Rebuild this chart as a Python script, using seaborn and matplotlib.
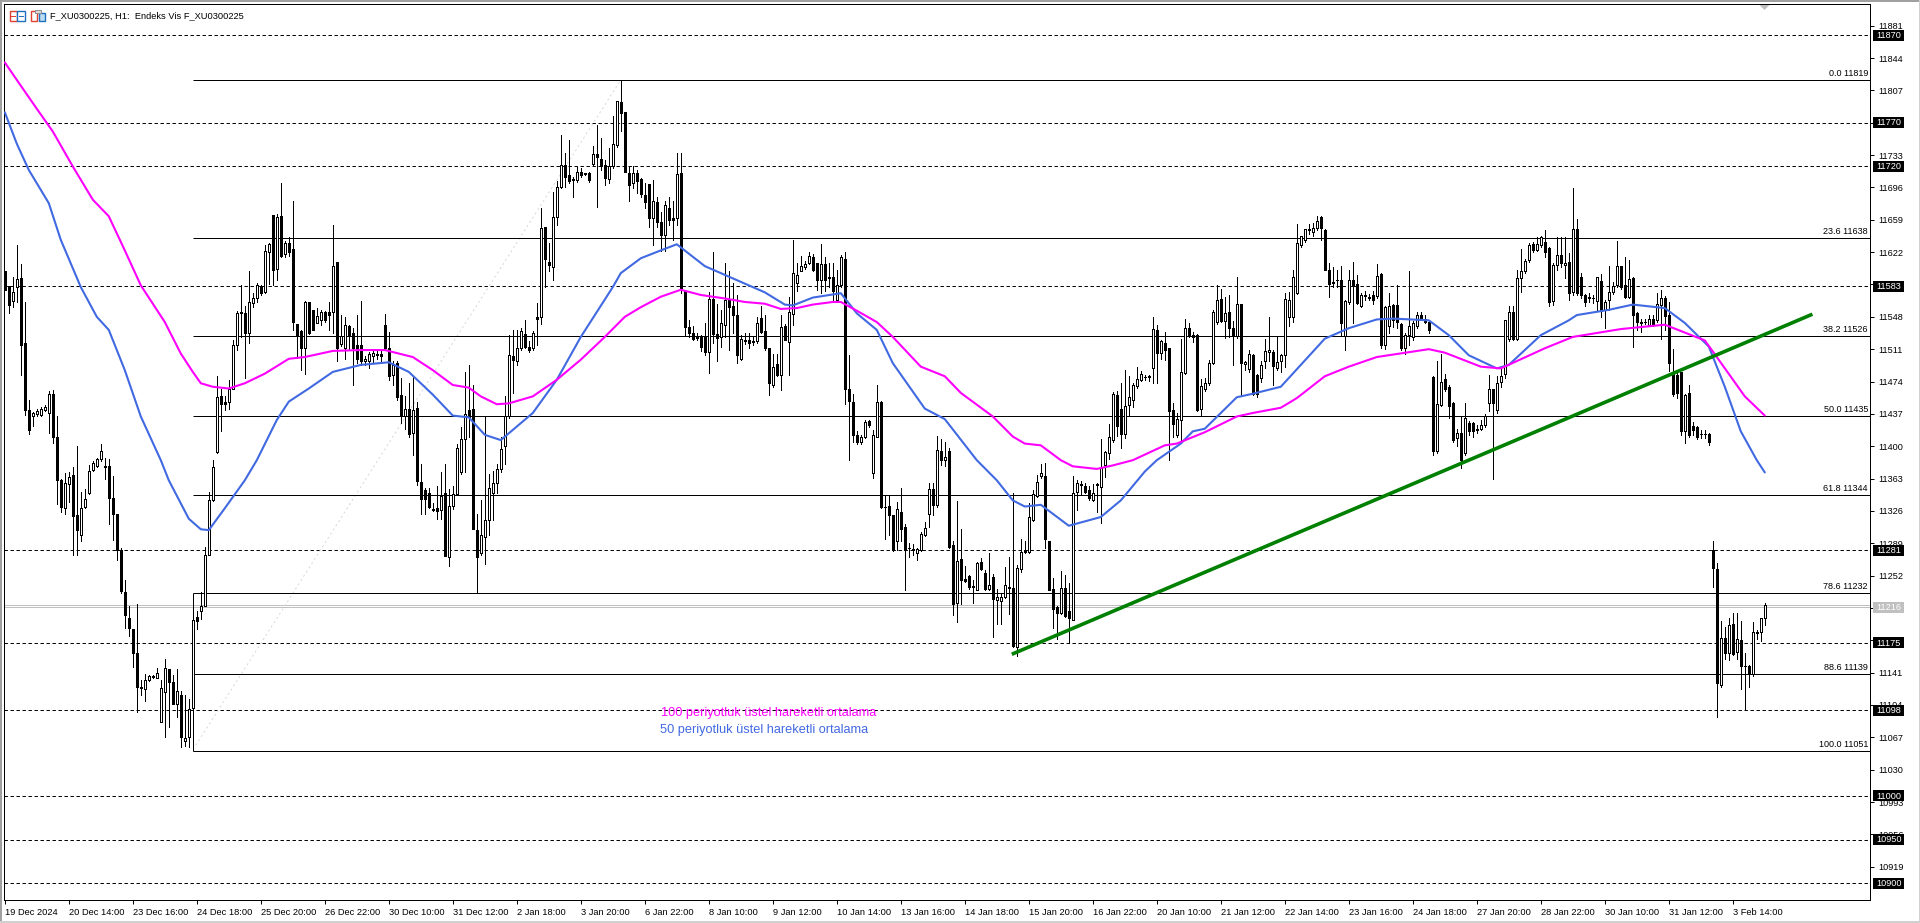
import matplotlib
matplotlib.use("Agg")
import matplotlib.pyplot as plt
from matplotlib.patches import Rectangle, Polygon
import numpy as np
import pandas as pd
import seaborn as sns

open_ = [
11600,11583,11566,11582,11592,11518,11441,11435,11437,11436,
11441,11438,11460,11411,11361,11329,11357,11367,11321,11298,
11331,11346,11373,11377,11385,11377,11377,11341,11322,11281,
11233,11203,11191,11163,11125,11122,11132,11136,11135,11085,
11119,11145,11130,11105,11115,11063,11067,11100,11205,11212,
11217,11275,11338,11393,11457,11450,11450,11466,11516,11553,
11552,11530,11564,11569,11583,11576,11622,11665,11603,11663,
11620,11633,11626,11540,11532,11512,11565,11556,11541,11544,
11553,11553,11553,11611,11517,11512,11537,11529,11516,11516,
11497,11498,11503,11506,11506,11539,11512,11481,11495,11459,
11434,11442,11415,11444,11359,11350,11346,11328,11329,11327,
11347,11273,11332,11345,11370,11408,11441,11443,11304,11278,
11296,11316,11346,11358,11374,11400,11434,11503,11498,11512,
11528,11514,11512,11548,11548,11651,11611,11605,11662,11696,
11722,11710,11706,11704,11714,11712,11713,11723,11734,11729,
11722,11706,11720,11745,11794,11782,11712,11701,11712,11706,
11687,11700,11661,11679,11656,11642,11672,11661,11661,11712,
11577,11536,11530,11526,11526,11526,11508,11568,11528,11525,
11539,11567,11560,11550,11500,11521,11522,11520,11520,11547,
11532,11512,11470,11494,11481,11537,11519,11551,11587,11600,
11605,11609,11616,11609,11590,11608,11594,11594,11567,11584,
11614,11465,11451,11413,11405,11411,11429,11369,11411,11451,
11331,11332,11321,11291,11325,11308,11284,11282,11278,11281,
11298,11322,11351,11333,11394,11384,11394,11287,11221,11271,
11248,11252,11240,11236,11267,11255,11237,11250,11224,11223,
11228,11239,11238,11170,11259,11281,11279,11316,11343,11366,
11366,11292,11237,11216,11209,11238,11211,11201,11348,11356,
11354,11350,11339,11357,11353,11378,11392,11407,11459,11443,
11414,11447,11453,11469,11476,11479,11480,11489,11533,11507,
11518,11512,11441,11413,11430,11484,11535,11527,11527,11442,
11466,11472,11495,11542,11568,11543,11554,11535,11526,11563,
11494,11488,11504,11481,11478,11497,11508,11508,11490,11497,
11504,11548,11548,11575,11630,11636,11647,11645,11650,11662,
11647,11601,11588,11590,11590,11526,11565,11590,11585,11560,
11572,11571,11573,11572,11597,11516,11538,11561,11561,11540,
11512,11527,11525,11538,11550,11546,11542,11479,11394,11447,
11477,11468,11449,11409,11415,11392,11427,11426,11420,11420,
11424,11449,11465,11441,11474,11483,11523,11554,11523,11592,
11600,11613,11631,11625,11630,11634,11627,11566,11607,11619,
11607,11611,11576,11648,11593,11573,11571,11569,11566,11589,
11556,11567,11576,11584,11606,11584,11571,11592,11552,11542,
11542,11539,11545,11544,11561,11570,11550,11483,11481,11485,
11417,11461,11423,11422,11414,11414,11414,11281,11260,11127,
11181,11164,11197,11165,11178,11149,11149,11139,11188,11187,
11203]
close = [
11579,11561,11576,11591,11516,11441,11418,11438,11440,11443,
11445,11460,11411,11361,11330,11358,11365,11320,11304,11329,
11340,11372,11381,11385,11395,11376,11341,11322,11281,11234,
11207,11192,11163,11124,11123,11132,11137,11137,11141,11123,
11146,11130,11105,11120,11067,11066,11099,11201,11200,11217,
11275,11339,11376,11456,11448,11448,11465,11516,11552,11552,
11529,11565,11569,11584,11575,11623,11631,11601,11662,11618,
11633,11622,11542,11527,11512,11565,11529,11533,11549,11554,
11544,11550,11606,11512,11526,11539,11527,11512,11500,11498,
11500,11505,11507,11504,11503,11512,11480,11493,11456,11434,
11442,11414,11441,11360,11340,11340,11331,11327,11326,11343,
11274,11332,11345,11398,11408,11437,11433,11305,11273,11298,
11316,11352,11358,11374,11397,11435,11504,11499,11512,11532,
11514,11510,11529,11546,11650,11614,11607,11662,11697,11722,
11708,11703,11705,11714,11710,11711,11704,11734,11731,11720,
11707,11721,11746,11795,11781,11714,11699,11713,11703,11688,
11679,11661,11680,11656,11642,11676,11659,11659,11711,11581,
11536,11530,11523,11524,11514,11508,11568,11528,11524,11541,
11567,11559,11550,11504,11523,11520,11518,11519,11541,11531,
11512,11472,11491,11482,11536,11522,11554,11598,11596,11606,
11608,11618,11601,11590,11608,11590,11592,11578,11584,11617,
11465,11452,11413,11405,11411,11428,11424,11413,11451,11330,
11330,11321,11281,11328,11305,11281,11283,11281,11282,11299,
11306,11351,11333,11396,11384,11388,11285,11220,11269,11247,
11246,11239,11239,11266,11260,11237,11241,11225,11228,11227,
11241,11238,11171,11261,11279,11279,11319,11345,11359,11369,
11294,11236,11214,11209,11238,11206,11203,11347,11358,11357,
11348,11341,11346,11356,11375,11393,11410,11460,11423,11414,
11446,11456,11470,11477,11483,11479,11479,11534,11507,11520,
11510,11440,11425,11431,11485,11535,11527,11525,11441,11469,
11472,11495,11554,11567,11543,11552,11535,11526,11563,11495,
11496,11505,11460,11460,11493,11509,11510,11492,11496,11504,
11568,11567,11593,11633,11640,11648,11648,11650,11658,11650,
11601,11586,11587,11590,11541,11566,11590,11583,11564,11573,
11573,11570,11567,11595,11516,11559,11560,11544,11542,11512,
11527,11537,11541,11550,11546,11542,11533,11394,11448,11474,
11466,11446,11407,11415,11384,11432,11417,11417,11419,11424,
11435,11465,11449,11472,11480,11544,11554,11523,11592,11600,
11612,11630,11625,11631,11639,11622,11565,11607,11619,11609,
11610,11575,11648,11575,11573,11565,11570,11569,11593,11555,
11565,11576,11583,11606,11582,11571,11591,11550,11542,11541,
11542,11546,11540,11563,11569,11549,11495,11460,11461,11417,
11459,11413,11419,11410,11414,11414,11405,11261,11129,11181,
11164,11195,11162,11180,11149,11149,11139,11188,11186,11203,
11218]
high = [
11600,11583,11594,11630,11608,11565,11453,11439,11443,11445,
11447,11463,11464,11434,11363,11369,11370,11376,11400,11348,
11351,11379,11383,11386,11402,11386,11385,11366,11322,11283,
11247,11217,11191,11220,11132,11139,11138,11138,11146,11132,
11157,11145,11138,11145,11120,11115,11111,11201,11212,11233,
11285,11348,11384,11480,11466,11457,11476,11522,11555,11584,
11560,11600,11575,11587,11584,11630,11632,11665,11666,11701,
11635,11639,11680,11540,11533,11566,11565,11556,11558,11556,
11555,11565,11653,11611,11550,11548,11539,11535,11550,11566,
11503,11508,11510,11510,11510,11551,11531,11498,11497,11478,
11457,11472,11480,11450,11380,11352,11352,11335,11355,11370,
11380,11351,11355,11402,11422,11485,11493,11470,11323,11338,
11433,11368,11372,11380,11410,11457,11527,11533,11533,11535,
11544,11520,11532,11564,11672,11651,11632,11691,11703,11756,
11735,11750,11708,11719,11718,11713,11714,11743,11767,11752,
11727,11741,11778,11795,11819,11782,11720,11720,11716,11707,
11701,11700,11705,11685,11668,11680,11685,11680,11735,11735,
11577,11544,11537,11530,11527,11541,11576,11622,11563,11556,
11609,11600,11587,11573,11527,11529,11530,11526,11548,11560,
11550,11512,11505,11505,11550,11540,11571,11636,11609,11618,
11612,11622,11620,11609,11631,11617,11609,11609,11602,11619,
11622,11504,11460,11417,11413,11430,11430,11419,11470,11452,
11344,11344,11321,11336,11352,11311,11289,11288,11283,11302,
11313,11358,11358,11412,11408,11405,11398,11292,11337,11305,
11263,11253,11247,11268,11272,11258,11278,11254,11237,11232,
11262,11273,11347,11264,11294,11292,11335,11350,11367,11380,
11381,11292,11249,11217,11257,11253,11243,11366,11361,11360,
11358,11354,11357,11358,11408,11395,11425,11462,11463,11472,
11487,11480,11472,11491,11486,11482,11481,11548,11539,11522,
11531,11512,11449,11438,11523,11545,11541,11531,11528,11477,
11478,11499,11556,11584,11580,11571,11573,11543,11594,11563,
11498,11510,11505,11483,11497,11523,11548,11510,11525,11506,
11575,11576,11601,11654,11641,11649,11654,11655,11663,11663,
11648,11609,11605,11602,11606,11567,11601,11611,11596,11575,
11577,11574,11577,11608,11598,11560,11575,11563,11584,11541,
11529,11600,11543,11553,11553,11550,11544,11480,11497,11506,
11483,11470,11451,11420,11434,11449,11429,11428,11424,11430,
11437,11482,11466,11480,11489,11544,11560,11560,11601,11626,
11614,11633,11634,11639,11640,11647,11628,11610,11639,11639,
11639,11621,11695,11660,11598,11574,11575,11573,11593,11597,
11567,11606,11588,11635,11606,11616,11613,11593,11554,11545,
11545,11550,11550,11575,11579,11572,11565,11511,11485,11485,
11460,11470,11428,11423,11418,11419,11415,11291,11266,11200,
11193,11203,11209,11209,11200,11164,11150,11199,11190,11203,
11221]
low = [
11579,11552,11559,11565,11481,11436,11414,11423,11434,11435,
11440,11415,11404,11334,11325,11323,11336,11275,11275,11292,
11329,11345,11372,11376,11383,11362,11311,11293,11270,11232,
11192,11183,11148,11096,11115,11108,11131,11135,11135,11085,
11067,11079,11105,11090,11056,11057,11056,11095,11191,11202,
11217,11275,11337,11392,11417,11441,11443,11466,11510,11525,
11478,11518,11559,11565,11573,11575,11586,11584,11590,11617,
11617,11618,11533,11501,11487,11483,11528,11533,11541,11539,
11542,11533,11530,11497,11515,11500,11510,11470,11495,11493,
11493,11490,11495,11500,11497,11510,11476,11470,11453,11426,
11420,11410,11390,11356,11322,11323,11329,11326,11317,11317,
11274,11263,11328,11344,11368,11370,11410,11305,11233,11275,
11265,11298,11316,11346,11370,11380,11432,11461,11493,11510,
11512,11508,11510,11516,11540,11582,11600,11590,11653,11695,
11697,11701,11685,11702,11708,11710,11702,11721,11674,11716,
11699,11701,11718,11742,11761,11714,11680,11695,11690,11685,
11672,11651,11630,11651,11623,11623,11653,11636,11653,11575,
11527,11525,11521,11521,11509,11504,11484,11518,11498,11513,
11525,11510,11530,11495,11499,11517,11512,11516,11518,11529,
11510,11459,11468,11480,11464,11521,11481,11539,11577,11600,
11603,11608,11600,11579,11575,11578,11582,11565,11565,11582,
11448,11384,11405,11403,11403,11409,11422,11364,11410,11329,
11294,11298,11280,11281,11292,11235,11273,11276,11270,11280,
11297,11308,11321,11330,11378,11377,11284,11207,11199,11220,
11245,11237,11221,11235,11258,11235,11235,11182,11197,11197,
11226,11208,11170,11160,11256,11278,11278,11315,11342,11364,
11283,11236,11192,11180,11208,11205,11175,11201,11327,11345,
11346,11339,11337,11325,11312,11365,11385,11405,11412,11398,
11409,11434,11445,11467,11475,11476,11475,11472,11472,11500,
11499,11384,11410,11411,11407,11483,11525,11519,11440,11434,
11463,11470,11494,11540,11542,11524,11525,11493,11524,11459,
11487,11485,11459,11456,11473,11490,11497,11470,11487,11485,
11491,11537,11542,11574,11628,11634,11643,11640,11647,11636,
11601,11571,11582,11582,11526,11510,11563,11541,11563,11559,
11567,11567,11563,11569,11512,11511,11529,11536,11535,11510,
11505,11516,11522,11535,11544,11541,11530,11390,11392,11446,
11463,11432,11405,11400,11375,11390,11413,11410,11415,11418,
11422,11440,11363,11438,11468,11478,11520,11521,11521,11576,
11598,11611,11622,11623,11628,11617,11560,11561,11601,11605,
11592,11567,11573,11573,11570,11560,11565,11564,11555,11548,
11535,11556,11574,11582,11580,11570,11569,11514,11533,11531,
11540,11537,11538,11542,11523,11533,11486,11458,11455,11413,
11404,11411,11413,11408,11409,11409,11401,11239,11090,11124,
11157,11155,11161,11157,11122,11098,11125,11137,11179,11177,
11196]

ema100_bar = [0,3,8,12,17,22,26,30,34,40,44,47,49,52,56,60,65,71,75,82,89,95,102,107,112,116,119,123,126,132,138,144,150,155,159,
164,169,174,180,185,190,194,198,202,207,209,213,218,222,229,235,239,247,252,255,259,264,267,273,277,282,290,293,300,308,312,319,
323,330,336,343,356,360,369,374,385,392,404,415,425,428,435,440]
ema100_val = [11839,11819,11786,11760,11720,11682,11663,11624,11584,11542,11506,11485,11472,11468,11466,11472,11483,11500,11502,11509,11510,11510,11502,11487,11470,11467,11457,11448,11449,11457,11476,11499,11525,11548,11559,
11571,11579,11573,11569,11565,11563,11557,11558,11562,11565,11565,11555,11542,11525,11491,11480,11461,11434,11411,11403,11401,11384,11377,11374,11378,11384,11401,11403,11416,11434,11438,11444,
11455,11480,11491,11502,11511,11507,11491,11489,11512,11525,11534,11539,11521,11502,11457,11435]
ema50_bar = [0,3,6,11,14,19,23,26,30,34,39,41,46,49,51,55,60,63,68,71,76,82,89,96,101,107,112,116,120,124,132,138,144,152,154,159,
164,168,175,182,190,195,197,202,209,213,218,222,230,235,243,248,252,255,259,266,274,279,285,288,294,297,300,308,312,319,
321,330,336,343,347,356,361,366,373,376,384,391,393,401,407,415,420,426,430,434,438,440]
ema50_val = [11782,11746,11716,11678,11636,11582,11548,11533,11487,11434,11384,11361,11317,11305,11304,11329,11361,11384,11430,11451,11466,11485,11493,11496,11485,11459,11435,11433,11413,11407,11438,11476,11525,11582,11598,11615,
11624,11631,11606,11592,11576,11562,11561,11570,11575,11552,11533,11495,11443,11431,11384,11361,11338,11331,11333,11309,11319,11338,11371,11384,11403,11417,11420,11456,11460,11468,
11478,11523,11535,11545,11546,11544,11527,11504,11489,11493,11527,11544,11550,11556,11562,11558,11541,11514,11468,11417,11384,11370]

time_labels = ["19 Dec 2024","20 Dec 14:00","23 Dec 16:00","24 Dec 18:00","25 Dec 20:00","26 Dec 22:00","30 Dec 10:00",
"31 Dec 12:00","2 Jan 18:00","3 Jan 20:00","6 Jan 22:00","8 Jan 10:00","9 Jan 12:00","10 Jan 14:00","13 Jan 16:00",
"14 Jan 18:00","15 Jan 20:00","16 Jan 22:00","20 Jan 10:00","21 Jan 12:00","22 Jan 14:00","23 Jan 16:00","24 Jan 18:00",
"27 Jan 20:00","28 Jan 22:00","30 Jan 10:00","31 Jan 12:00","3 Feb 14:00"]
price_ticks = [11881,11844,11807,11770,11733,11696,11659,11622,11585,11548,11511,11474,11437,11400,11363,11326,11289,11252,11215,11178,11141,11104,11067,11030,10993,10956,10919]
dashed_levels = [11870,11770,11720,11583,11281,11175,11098,11000,10950,10900]
fib_ratios = ["0.0","23.6","38.2","50.0","61.8","78.6","88.6","100.0"]
fib_levels = [11819,11638,11526,11435,11344,11232,11139,11051]
bid_ask = [11218,11216]
trend_bars = [251.75,451.9]
trend_vals = [11162,11551]
fib_diag_bars = [47.75,154]
fib_diag_vals = [11058,11819]
fib_start_bar = 47
title_text = "F_XU0300225, H1:  Endeks Vis F_XU0300225"
note_100 = "100 periyotluk üstel hareketli ortalama"
note_50 = "50 periyotluk üstel hareketli ortalama"

sns.set_theme(style="white")
plt.rcParams["font.family"] = ["Liberation Sans", "DejaVu Sans"]
W, H = 1920, 923
PX = 72 / 100
fig = plt.figure(figsize=(W / 100, H / 100), dpi=100, facecolor="white")
ax = fig.add_axes([4 / W, 1 - 900 / H, 1866 / W, 895.7 / H])
ax.set_facecolor("white")
ax.set_xlim(-0.2, 466.3)
ax.set_ylim(10880.9, 11905.5)

df = pd.DataFrame({"o": open_, "h": high, "l": low, "c": close})
df["bar"] = np.arange(len(df))

for lv in dashed_levels:
    ax.axhline(lv, color="black", lw=PX, ls=(0, (3.4, 2.6)), zorder=1)
for lv in bid_ask:
    ax.axhline(lv, color="#c0c0c0", lw=PX, zorder=1)
x0 = fib_start_bar
for lv, r in zip(fib_levels, fib_ratios):
    ax.hlines(lv, x0, 466.3, color="black", lw=PX, zorder=1.5)
    ax.annotate(f"{r} {lv}", xy=(1, lv), xycoords=("axes fraction", "data"), xytext=(-1.5, 1.5),
                textcoords="offset points", ha="right", va="bottom", fontsize=6.5, color="black", zorder=5)
ax.vlines(x0, fib_levels[-1], fib_levels[-3], color="black", lw=PX, zorder=1.5)
ax.plot(fib_diag_bars, fib_diag_vals, color="#d8d8d8", lw=PX, ls=(0, (2, 3)), zorder=1.2)

ax.vlines(df["bar"], df["l"], df["h"], color="black", lw=PX, zorder=2, antialiased=False)
up = df[df["c"] >= df["o"]]
dn = df[df["c"] < df["o"]]
ax.bar(up["bar"], (up["c"] - up["o"]), bottom=up["o"], width=0.5, facecolor="white", edgecolor="black",
       linewidth=PX, zorder=2.2, antialiased=False)
ax.bar(dn["bar"], (dn["c"] - dn["o"]), bottom=dn["o"], width=0.5, facecolor="black", edgecolor="black",
       linewidth=PX, zorder=2.2, antialiased=False)

e100 = pd.DataFrame({"bar": ema100_bar, "v": ema100_val})
e50 = pd.DataFrame({"bar": ema50_bar, "v": ema50_val})
sns.lineplot(data=e50, x="bar", y="v", ax=ax, color="#4169E1", lw=1.5, errorbar=None, zorder=3, legend=False)
sns.lineplot(data=e100, x="bar", y="v", ax=ax, color="#FF00FF", lw=1.5, errorbar=None, zorder=3, legend=False)
ax.plot(trend_bars, trend_vals, color="#008000", lw=2.6, zorder=4, solid_capstyle="butt")

ax.set_xlabel("")
ax.set_ylabel("")
ax.set_xlim(-0.2, 466.3)
ax.set_ylim(10880.9, 11905.5)
for s in ax.spines.values():
    s.set_visible(True)
    s.set_color("black")
    s.set_linewidth(PX)
ax.set_xticks(np.arange(len(time_labels)) * 16)
ax.set_xticklabels(time_labels, ha="left", fontsize=6.7, color="black")
ax.tick_params(axis="x", length=3, width=PX, color="black", pad=2.6, bottom=True)
ax.yaxis.tick_right()
ax.set_yticks(price_ticks)
ax.set_yticklabels([str(v) for v in price_ticks], fontsize=6.6, color="black")
ax.tick_params(axis="y", length=3, width=PX, color="black", pad=2.8, right=True)


def px_rect(x, y, w, h, **kw):
    fig.add_artist(Rectangle((x / W, 1 - (y + h) / H), w / W, h / H, transform=fig.transFigure, **kw))


def price_box(level, shown, face):
    ypx = H - ax.transData.transform((0, level))[1]
    px_rect(1873, ypx - 5.5, 31, 11, fc=face, ec="none", zorder=3)
    fig.text(1876.3 / W, 1 - (ypx + 0.2) / H, shown, fontsize=6.6, color="white", va="center", ha="left", zorder=4)


for lv in dashed_levels:
    price_box(lv, str(lv), "black")
price_box(bid_ask[1], str(bid_ask[1]), "#c0c0c0")

fig.text(50 / W, 1 - 15.7 / H, title_text, fontsize=6.7, color="black", va="center", ha="left")
fig.text(661 / W, 1 - 713 / H, note_100, fontsize=9.2, color="#FF00FF", va="center", ha="left")
fig.text(660 / W, 1 - 729.5 / H, note_50, fontsize=9.2, color="#4169E1", va="center", ha="left")

RED, BLUE = "#e04030", "#2070c0"
px_rect(9.5, 10.5, 7.5, 10, fc="white", ec=RED, lw=1.0)
px_rect(17, 10.5, 7.5, 10, fc="white", ec=BLUE, lw=1.0)
for yy in (13.5, 16, 18.5):
    px_rect(11, yy, 5, 0.9, fc=RED, ec="none")
    px_rect(18.5, yy, 5, 0.9, fc=BLUE, ec="none")
px_rect(30.5, 11, 6.5, 9.5, fc="white", ec=RED, lw=1.0)
px_rect(38.5, 13, 6.5, 7.5, fc="#bcdcf0", ec=BLUE, lw=1.0)
px_rect(34.5, 10, 6, 2.5, fc="#d8d8d8", ec="#909090", lw=0.7)

fig.add_artist(Polygon([[1759.5 / W, 1 - 5 / H], [1769.5 / W, 1 - 5 / H], [1764.5 / W, 1 - 10 / H]],
                       closed=True, transform=fig.transFigure, fc="#c0c0c0", ec="none"))
px_rect(0, 0, W, 2, fc="#a0a0a0", ec="none")
px_rect(0, 0, 2, H, fc="#a0a0a0", ec="none")
px_rect(0, H - 2, W, 2, fc="#d0d0d0", ec="none")
px_rect(W - 1.5, 0, 1.5, H, fc="#d0d0d0", ec="none")

fig.savefig("out.png", dpi=100, facecolor="white")
